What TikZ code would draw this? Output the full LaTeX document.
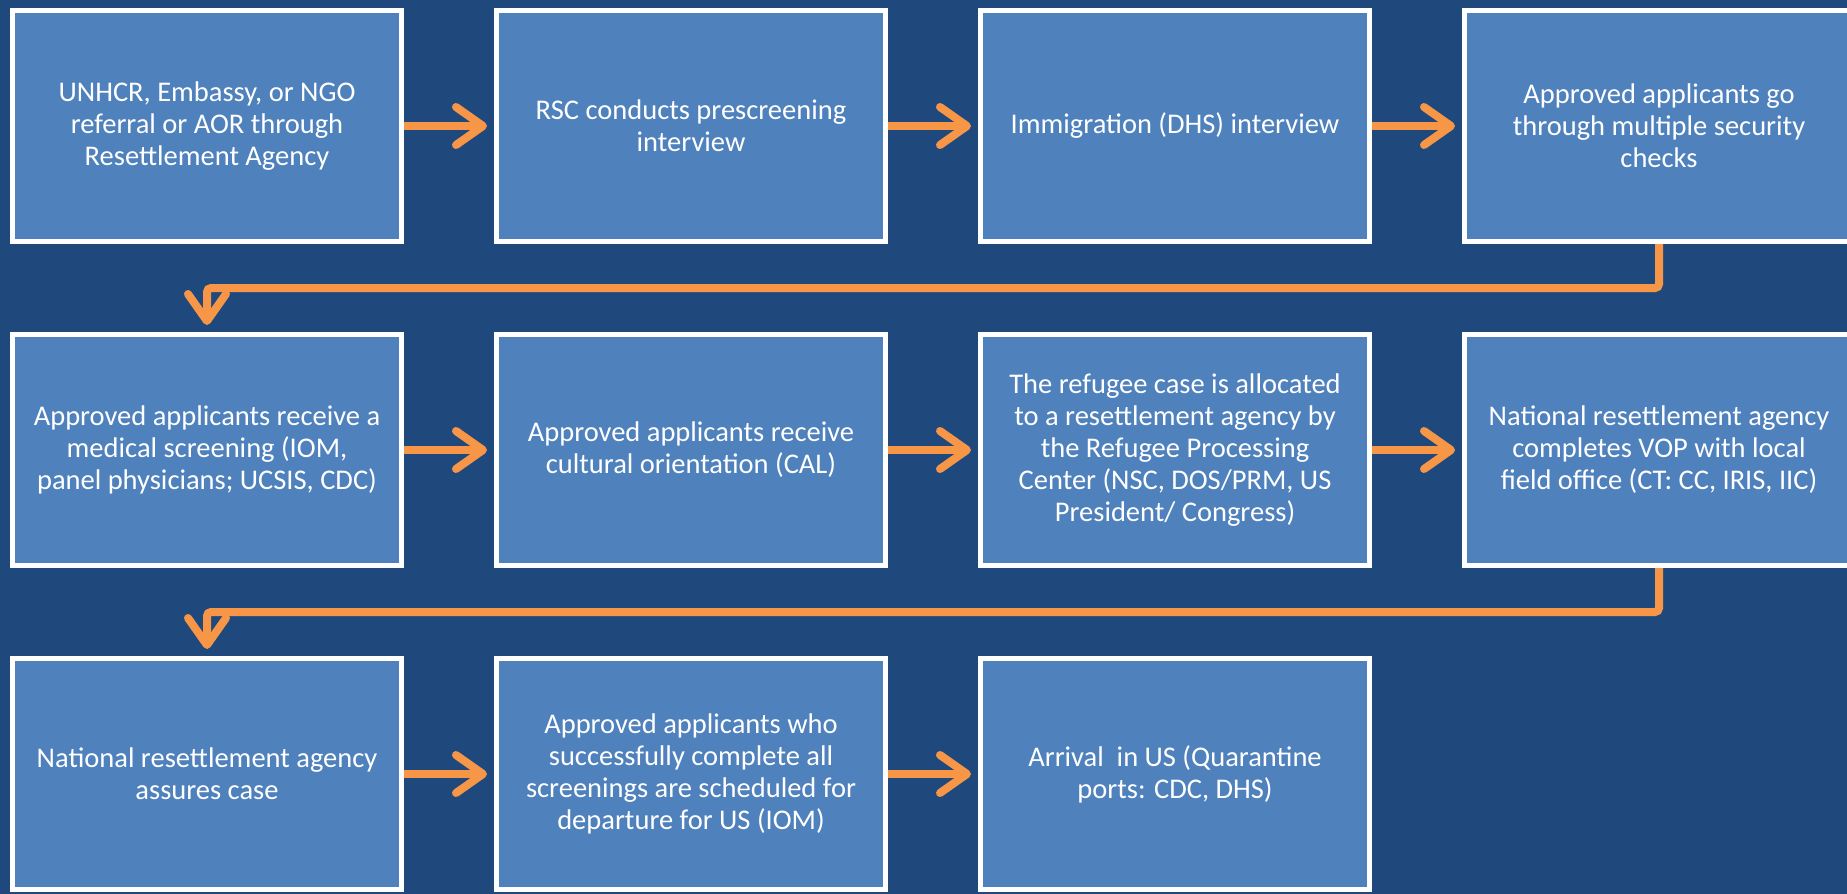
\documentclass[tikz,border=0pt]{standalone}
\usepackage{fontspec}
\setmainfont{Carlito}
\usetikzlibrary{positioning, arrows.meta}

\definecolor{bgblue}{HTML}{1F497D}
\definecolor{boxblue}{HTML}{4F81BD}
\definecolor{flowor}{HTML}{F79646}

\tikzset{
  stage/.style={draw=white, fill=boxblue, line width=5pt, rectangle,
                minimum width=389pt, minimum height=231pt,
                align=center, text=white,
                font=\fontsize{28.5}{32}\selectfont},
  flow/.style={draw=flowor, line width=8pt, shorten >=7pt,
               -{Straight Barb[length=27pt,width=38pt,round]}},
}

\begin{document}
\begin{tikzpicture}[x=1pt, y=-1pt, node distance=88pt and 90pt]
    \fill[bgblue] (0,0) rectangle (1847,894);
    \useasboundingbox (0,0) rectangle (1847,894);
    \clip (0,0) rectangle (1847,894);

    % first row
    \node[stage] (ref) at (207,126) {UNHCR, Embassy, or NGO\\referral or AOR through\\Resettlement Agency};
    \node[stage, right =of ref] (rsc) {RSC conducts prescreening\\interview};
    \node[stage, right =of rsc] (dhs) {Immigration (DHS) interview};
    \node[stage, right =of dhs] (sec) {Approved applicants go\\through multiple security\\checks};

    % second row
    \node[stage, below =of ref] (med) {Approved applicants receive a\\medical screening (IOM,\\panel physicians; UCSIS, CDC)};
    \node[stage, right =of med] (cal) {Approved applicants receive\\cultural orientation (CAL)};
    \node[stage, right =of cal] (rpc) {The refugee case is allocated\\to a resettlement agency by\\the Refugee Processing\\Center (NSC, DOS/PRM, US\\President/ Congress)};
    \node[stage, right =of rpc] (vop) {National resettlement agency\\completes VOP with local\\field office (CT: CC, IRIS, IIC)};

    % third row
    \node[stage, below =of med] (asr) {National resettlement agency\\assures case};
    \node[stage, right =of asr] (dep) {Approved applicants who\\successfully complete all\\screenings are scheduled for\\departure for US (IOM)};
    \node[stage, right =of dep] (arr) {Arrival\ \ in US (Quarantine\\ports: CDC, DHS)};

    \draw[flow] (ref) -- (rsc);
    \draw[flow] (rsc) -- (dhs);
    \draw[flow] (dhs) -- (sec);
    \draw[flow, rounded corners=4pt] (sec.south) -- ++(0,44) -| (med.north);
    \draw[flow] (med) -- (cal);
    \draw[flow] (cal) -- (rpc);
    \draw[flow] (rpc) -- (vop);
    \draw[flow, rounded corners=4pt] (vop.south) -- ++(0,44) -| (asr.north);
    \draw[flow] (asr) -- (dep);
    \draw[flow] (dep) -- (arr);
\end{tikzpicture}
\end{document}
